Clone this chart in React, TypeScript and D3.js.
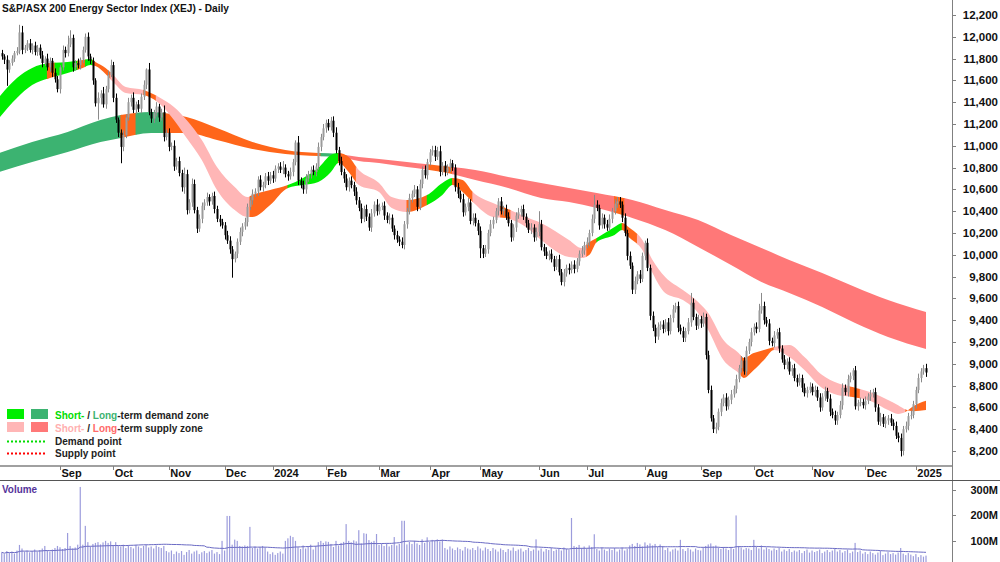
import React from "react";
import * as d3 from "d3";

const W = 1000;
const H = 562;

// daily closes (open = previous close)
const firstOpen = 11850;
const closes = [
  11820, 11790, 11700, 11760, 11800, 11850, 11870, 12040, 11880, 11900,
  11940, 11880, 11920, 11860, 11900, 11830, 11760, 11800, 11720, 11780,
  11670, 11610, 11520, 11720, 11880, 11850, 11930, 11990, 11720, 11760,
  11740, 11790, 11880, 12000, 11820, 11780, 11600, 11390, 11440, 11480,
  11380, 11520, 11650, 11740, 11440, 11240, 11120, 10990, 11100, 11260,
  11400, 11440, 11330, 11380, 11340, 11450, 11560, 11700, 11310, 11250,
  11300, 11360, 11260, 11310, 11080, 11120, 10990, 11000, 10810, 10860,
  10750, 10620, 10740, 10410, 10480, 10650, 10410, 10240, 10330, 10450,
  10480, 10530, 10490, 10540, 10420, 10330, 10300, 10270, 10180, 10130,
  10050, 9960, 10010, 10120, 10210, 10260, 10300, 10440, 10500, 10560,
  10580, 10690, 10620, 10640, 10720, 10680, 10730, 10700, 10790, 10810,
  10780, 10800, 10740, 10720, 10760, 10850, 11030, 10680, 10640, 10600,
  10700, 10740, 10780, 10760, 10810, 10990, 11080, 11160, 11210, 11170,
  11230, 11120, 10960, 10860, 10760, 10700, 10620, 10680, 10640, 10580,
  10500, 10430, 10330, 10420, 10350, 10250, 10380, 10460, 10400, 10440,
  10450, 10360, 10320, 10340, 10240, 10180, 10140, 10120, 10090, 10280,
  10400, 10520, 10560, 10600, 10440, 10650, 10780, 10730, 10850, 10940,
  10960, 10900, 10950, 10760, 10820, 10760, 10800, 10840, 10800, 10620,
  10560, 10510, 10390, 10440, 10480, 10310, 10340, 10290, 10220, 10060,
  10010, 10050, 10200, 10280, 10320, 10400, 10490, 10400, 10420, 10350,
  10290, 10160, 10250, 10360, 10390, 10420, 10350, 10290, 10230, 10250,
  10160, 10210, 10280, 10070, 10030, 9990, 10010, 9960, 9890, 9960,
  9840, 9750, 9830, 9880, 9860, 9910, 9870, 9940, 10010, 10040,
  10090, 10120, 10200, 10330, 10460, 10430, 10270, 10340, 10280, 10250,
  10330, 10400, 10470, 10490, 10460, 10340, 10200, 9990, 9900, 9680,
  9760, 9820, 9780, 9990, 10110, 9880, 9440, 9330, 9250, 9340,
  9360, 9320, 9380, 9300, 9420, 9500, 9530, 9330, 9300, 9240,
  9300, 9380, 9560, 9430, 9350, 9410, 9370, 9430, 9080, 8760,
  8500, 8400, 8420, 8560, 8640, 8690, 8610, 8670, 8720, 8770,
  8860, 8960, 9030, 8930, 9120, 9200, 9290, 9340, 9320, 9490,
  9530, 9400, 9370, 9210, 9190, 9260, 9290, 9140, 9040, 8990,
  9020, 8930, 8960, 8870, 8830, 8870, 8780, 8730, 8760, 8790,
  8740, 8760, 8690, 8600, 8700, 8750, 8680, 8560, 8530, 8480,
  8530, 8620, 8780, 8740, 8860, 8890, 8940, 8610, 8640, 8650,
  8620, 8660, 8700, 8720, 8740, 8600, 8470, 8510, 8450, 8480,
  8500, 8460, 8430, 8340, 8320, 8200, 8400, 8430, 8520, 8530,
  8630, 8760, 8870, 8930, 8960, 8920,
];

// wick lengths above / below the body, in index points
const upWick = [
  30, 20, 40, 25, 30, 20, 35, 70, 60, 25, 30, 40, 20, 35, 25, 30, 40, 20, 45, 30,
  25, 40, 30, 20, 40, 30, 80, 70, 30, 25, 40, 20, 30, 30, 40, 25, 30, 20, 50, 30,
  60, 30, 40, 50, 30, 40, 20, 30, 40, 30, 40, 30, 50, 25, 40, 30, 40, 10, 60, 30,
  30, 40, 25, 30, 60, 30, 40, 30, 50, 30, 40, 30, 60, 40, 30, 50, 40, 30, 40, 30,
  30, 40, 25, 30, 40, 30, 35, 30, 30, 40, 40, 30, 20, 30, 40, 30, 40, 30, 30, 40,
  30, 30, 40, 30, 30, 40, 30, 40, 30, 30, 40, 60, 30, 30, 40, 30, 20, 60, 30, 40,
  40, 30, 30, 40, 30, 40, 30, 40, 30, 35, 35, 40, 50, 30, 40, 30, 40, 30, 40, 30,
  40, 30, 40, 30, 40, 30, 40, 30, 50, 30, 30, 40, 30, 40, 30, 30, 40, 30, 40, 30,
  30, 40, 30, 40, 30, 40, 30, 40, 30, 30, 40, 40, 40, 50, 30, 40, 30, 40, 30, 30,
  40, 30, 50, 30, 40, 30, 40, 40, 30, 40, 30, 40, 30, 40, 30, 30, 30, 40, 30, 40,
  40, 30, 30, 30, 40, 30, 40, 30, 30, 40, 30, 40, 120, 40, 30, 40, 30, 40, 30, 30,
  40, 30, 40, 30, 40, 30, 40, 30, 30, 40, 30, 40, 30, 40, 90, 40, 30, 40, 30, 40,
  40, 30, 40, 40, 40, 30, 40, 30, 40, 30, 40, 30, 40, 30, 20, 40, 30, 40, 30, 40,
  30, 40, 30, 40, 30, 40, 30, 40, 30, 40, 30, 40, 90, 40, 30, 40, 30, 40, 30, 40,
  40, 30, 40, 30, 40, 30, 40, 30, 40, 30, 40, 30, 40, 30, 40, 30, 40, 30, 40, 60,
  120, 40, 30, 40, 30, 40, 30, 40, 30, 40, 30, 40, 30, 40, 30, 40, 30, 40, 30, 40,
  30, 40, 30, 40, 30, 40, 30, 40, 30, 40, 30, 40, 40, 30, 40, 30, 20, 40, 30, 40,
  30, 40, 30, 40, 30, 40, 30, 40, 30, 40, 30, 40, 30, 40, 30, 40, 30, 40, 30, 40,
  30, 30, 40, 30, 30, 40,
];
const downWick = [
  30, 40, 150, 30, 25, 30, 20, 30, 40, 30, 30, 25, 40, 30, 35, 30, 40, 25, 30, 40,
  40, 30, 30, 40, 30, 40, 30, 25, 40, 30, 30, 40, 30, 25, 40, 30, 40, 30, 150, 60,
  30, 40, 30, 20, 40, 30, 40, 150, 40, 30, 30, 40, 30, 40, 30, 40, 30, 40, 30, 40,
  40, 30, 40, 30, 40, 30, 40, 30, 40, 30, 30, 40, 60, 40, 30, 40, 30, 40, 30, 40,
  40, 30, 40, 30, 40, 30, 40, 30, 40, 30, 40, 170, 30, 40, 30, 40, 30, 40, 30, 40,
  30, 40, 30, 40, 30, 40, 30, 40, 30, 40, 30, 40, 30, 40, 30, 40, 30, 40, 30, 40,
  40, 30, 40, 30, 40, 30, 40, 30, 40, 30, 30, 40, 30, 40, 30, 40, 30, 40, 30, 40,
  40, 30, 40, 30, 40, 30, 40, 30, 40, 30, 30, 40, 30, 40, 30, 40, 30, 40, 30, 40,
  40, 30, 40, 30, 40, 30, 40, 30, 40, 30, 30, 40, 30, 40, 30, 40, 30, 40, 30, 40,
  40, 30, 40, 30, 40, 30, 40, 30, 40, 90, 40, 30, 40, 30, 40, 30, 40, 30, 40, 30,
  30, 40, 30, 40, 30, 40, 30, 40, 30, 40, 40, 30, 40, 30, 40, 30, 40, 30, 40, 30,
  30, 30, 40, 30, 40, 30, 40, 30, 40, 30, 40, 30, 40, 30, 40, 30, 40, 30, 40, 30,
  30, 40, 30, 40, 30, 40, 30, 40, 30, 40, 40, 30, 40, 30, 40, 30, 40, 30, 60, 30,
  30, 40, 30, 40, 30, 40, 30, 40, 30, 40, 40, 30, 40, 30, 40, 30, 40, 30, 40, 30,
  30, 35, 40, 30, 40, 30, 40, 30, 40, 30, 40, 30, 40, 30, 40, 30, 40, 30, 40, 30,
  30, 40, 30, 40, 30, 40, 30, 40, 30, 40, 40, 30, 40, 30, 40, 30, 40, 30, 40, 30,
  30, 40, 30, 40, 30, 40, 30, 40, 30, 40, 40, 30, 40, 30, 40, 30, 40, 30, 40, 30,
  30, 40, 30, 40, 30, 40, 30, 40, 30, 40, 40, 30, 40, 30, 40, 50, 40, 30, 40, 30,
  30, 40, 30, 40, 30, 40,
];

// daily volume, millions
const volumes = [
  55, 48, 60, 52, 58, 50, 62, 84, 70, 58, 62, 55, 60, 66, 58, 64, 70, 80, 62, 58,
  66, 72, 80, 75, 68, 72, 131, 80, 70, 74, 85, 312, 85, 159, 95, 78, 88, 92, 95, 86,
  94, 100, 92, 98, 84, 95, 80, 78, 85, 72, 82, 76, 70, 84, 78, 72, 80, 85, 74, 78,
  70, 82, 76, 72, 80, 60, 55, 62, 48, 58, 52, 60, 45, 56, 64, 50, 58, 62, 48, 55,
  60, 52, 58, 64, 50, 56, 48, 100, 62, 198, 198, 85, 105, 100, 80, 78, 82, 80, 155, 72,
  78, 70, 76, 80, 74, 58, 48, 55, 45, 52, 58, 50, 100, 110, 120, 115, 100, 75, 68, 82,
  70, 78, 85, 66, 80, 95, 100, 92, 98, 96, 88, 76, 100, 82, 92, 96, 166, 100, 94, 102,
  98, 142, 90, 130, 128, 103, 96, 100, 127, 84, 88, 80, 90, 78, 84, 115, 82, 88, 179, 179,
  86, 96, 88, 100, 90, 84, 106, 92, 114, 96, 104, 100, 106, 98, 105, 72, 66, 78, 70, 64,
  74, 68, 62, 76, 70, 66, 72, 64, 78, 70, 62, 74, 68, 60, 72, 66, 58, 70, 64, 56,
  68, 62, 74, 60, 66, 70, 58, 64, 72, 60, 66, 106, 62, 70, 58, 68, 64, 72, 60, 66,
  70, 62, 74, 68, 64, 190, 80, 76, 84, 72, 78, 70, 82, 76, 126, 68, 62, 74, 66, 60,
  70, 64, 72, 58, 66, 74, 62, 68, 82, 88, 80, 92, 86, 78, 94, 84, 90, 82, 88, 76,
  86, 80, 64, 72, 58, 66, 70, 62, 104, 68, 60, 72, 66, 58, 70, 64, 62, 74, 80, 86,
  90, 78, 82, 74, 68, 76, 70, 64, 72, 68, 200, 80, 74, 66, 72, 70, 64, 104, 76, 70,
  82, 66, 74, 68, 62, 70, 64, 72, 58, 66, 60, 68, 56, 62, 58, 64, 52, 60, 66, 54,
  62, 56, 60, 66, 52, 58, 64, 56, 62, 70, 58, 64, 54, 60, 66, 52, 58, 92, 56, 62,
  50, 56, 48, 58, 52, 46, 54, 60, 44, 50, 56, 48, 52, 46, 54, 72, 50, 44, 52, 46,
  40, 48, 36, 44, 38, 42,
];

// month labels and the trading-day index where each month starts
const monthLabels = ["Sep", "Oct", "Nov", "Dec", "2024", "Feb", "Mar", "Apr", "May", "Jun", "Jul", "Aug", "Sep", "Oct", "Nov", "Dec", "2025"];
const monthStarts = [23, 44, 66, 88, 107, 128, 149, 169, 189, 212, 231, 254, 276, 297, 320, 341, 361];

const priceTicks = d3.range(8200, 12201, 200);
const volumeTicks = [100, 200, 300];

// long-term band (two slow averages), sampled
const longIdx = [-1, 12, 26, 39, 47, 59, 64, 73, 85, 99, 112, 125, 133, 141, 149, 160, 174, 187, 200, 213, 224, 235, 249, 262, 275, 288, 300, 311, 324, 337, 350, 365];
const longHi = [10934, 11035, 11127, 11237, 11283, 11310, 11301, 11264, 11163, 11035, 10961, 10934, 10925, 10897, 10879, 10851, 10815, 10778, 10714, 10659, 10613, 10567, 10503, 10411, 10319, 10182, 10062, 9952, 9833, 9705, 9585, 9475];
const longLo = [10760, 10852, 10943, 11035, 11072, 11117, 11117, 11117, 11053, 10971, 10925, 10906, 10897, 10861, 10842, 10806, 10760, 10686, 10613, 10521, 10484, 10429, 10338, 10227, 10072, 9906, 9751, 9650, 9521, 9374, 9246, 9136];
const longZones: [number, number, string][] = [
  [-1, 47, "dL"], [47, 53, "mx"], [53, 64, "dL"], [64, 126, "mx"], [126, 132, "dL"],
  [132, 168, "sL"], [168, 178, "mx"], [178, 242, "sL"], [242, 246, "mx"], [246, 365, "sL"],
];

// short-term band (two fast averages), sampled
const shortIdx = [-1, 6, 12, 19, 26, 32, 35, 37, 41, 44, 49, 56, 62, 68, 73, 79, 85, 92, 97, 99, 106, 113, 119, 125, 130, 133, 137, 141, 149, 154, 160, 168, 174, 178, 182, 186, 194, 199, 207, 213, 224, 229, 232, 235, 242, 245, 248, 253, 257, 262, 269, 275, 279, 285, 291, 293, 297, 301, 305, 311, 317, 324, 330, 336, 344, 350, 354, 357, 360, 365];
const shortA = [11448, 11622, 11714, 11760, 11769, 11787, 11796, 11769, 11714, 11650, 11539, 11512, 11448, 11356, 11237, 11053, 10806, 10622, 10530, 10549, 10594, 10640, 10705, 10796, 10916, 10934, 10897, 10778, 10659, 10530, 10503, 10549, 10659, 10705, 10686, 10576, 10475, 10429, 10347, 10292, 10136, 10062, 10117, 10154, 10255, 10292, 10246, 10136, 9952, 9796, 9677, 9567, 9466, 9218, 9099, 9053, 9099, 9127, 9154, 9173, 9063, 8897, 8824, 8787, 8732, 8668, 8620, 8580, 8565, 8576];
const shortB = [11255, 11439, 11558, 11622, 11668, 11714, 11741, 11732, 11659, 11585, 11484, 11466, 11393, 11237, 11072, 10870, 10594, 10411, 10347, 10347, 10457, 10613, 10640, 10668, 10760, 10842, 10760, 10640, 10576, 10429, 10393, 10457, 10549, 10640, 10576, 10484, 10347, 10338, 10255, 10136, 9980, 9971, 9998, 10117, 10182, 10227, 10154, 10044, 9833, 9650, 9585, 9466, 9310, 9035, 8916, 8870, 8943, 9035, 9127, 9063, 8943, 8778, 8714, 8696, 8650, 8576, 8540, 8560, 8610, 8660];
const shortZones: [number, number, string][] = [
  [-1, 18, "dS"], [18, 21, "mx"], [21, 30, "dS"], [30, 33, "mx"], [33, 36, "dS"], [36, 43, "mx"],
  [43, 56, "sS"], [56, 61, "mx"], [61, 98, "sS"], [98, 113, "mx"], [113, 133, "dS"], [133, 140, "mx"],
  [140, 160, "sS"], [160, 168, "mx"], [168, 178, "dS"], [178, 186, "mx"], [186, 197, "sS"], [197, 201, "mx"],
  [201, 231, "sS"], [231, 235, "mx"], [235, 245, "dS"], [245, 251, "mx"], [251, 292, "sS"], [292, 305, "mx"],
  [305, 335, "sS"], [335, 339, "mx"], [339, 357, "sS"], [357, 365, "mx"],
];

const zoneColor: Record<string, string> = {
  dS: "#00ee00",
  dL: "#3cb371",
  sS: "#ffb6b6",
  sL: "#ff7878",
  mx: "#ff661a",
};

const FONT = "Arial, 'Liberation Sans', sans-serif";

export default function App() {
  const n = closes.length;
  const x = d3.scaleLinear().domain([0, n - 1]).range([1.75, 926]);
  const y = d3.scaleLinear().domain([8200, 12200]).range([451, 15]);
  const yv = d3.scaleLinear().domain([0, 300]).range([566.3, 490]);
  const fmt = d3.format(",");

  const candles = closes.map((c, i) => {
    const o = i === 0 ? firstOpen : closes[i - 1];
    const h = Math.max(o, c) + upWick[i];
    const l = Math.min(o, c) - downWick[i];
    return { i, o, h, l, c, up: c >= o };
  });

  const band = (idx: number[], a: number[], b: number[]) =>
    d3.area<number>()
      .x((k) => x(idx[k]))
      .y0((k) => y(a[k]))
      .y1((k) => y(b[k]))
      .curve(d3.curveMonotoneX)(d3.range(idx.length)) || "";

  const longPath = band(longIdx, longHi, longLo);
  const shortPath = band(shortIdx, shortA, shortB);

  const volMA = volumes.map((_, i) => d3.mean(volumes.slice(Math.max(0, i - 49), i + 1)) as number);
  const volLine = d3.line<number>().x((_, i) => x(i)).y((v) => yv(v))(volMA) || "";

  const zoneClip = (prefix: string, zones: [number, number, string][]) =>
    zones.map(([s, e], k) => (
      <clipPath id={`${prefix}${k}`} key={`${prefix}${k}`}>
        <rect x={s < 0 ? 0 : x(s) - 0.4} y={0} width={x(e) - (s < 0 ? 0 : x(s)) + 0.8} height={465} />
      </clipPath>
    ));

  return (
    <svg width={W} height={H} style={{ display: "block", position: "absolute", left: 0, top: 0, background: "#fff" }}>
      <defs>
        {zoneClip("lz", longZones)}
        {zoneClip("sz", shortZones)}
        <clipPath id="plot"><rect x={0} y={0} width={952} height={465} /></clipPath>
        <clipPath id="volplot"><rect x={0} y={481} width={952} height={81} /></clipPath>
      </defs>
      <rect x={0} y={0} width={W} height={H} fill="#fff" />

      <g clipPath="url(#plot)">
        {longZones.map(([, , key], k) => (
          <path key={`l${k}`} d={longPath} fill={zoneColor[key]} clipPath={`url(#lz${k})`} />
        ))}
        {shortZones.map(([, , key], k) => (
          <path key={`s${k}`} d={shortPath} fill={zoneColor[key]} clipPath={`url(#sz${k})`} />
        ))}
        {candles.map((d) => {
          const cx = Math.round(x(d.i));
          const top = y(Math.max(d.o, d.c));
          const bh = Math.max(1, Math.abs(y(d.o) - y(d.c)));
          const col = d.up ? "#9c9c9c" : "#000";
          return (
            <g key={d.i}>
              <line x1={cx + 0.5} x2={cx + 0.5} y1={y(d.h)} y2={y(d.l)} stroke={d.up ? "#8a8a8a" : "#000"} strokeWidth={1} />
              <rect x={cx - 0.5} y={top} width={2} height={bh} fill={col} />
            </g>
          );
        })}
      </g>

      <text x={2} y={12} fontFamily={FONT} fontWeight="bold" fontSize={11.5} fill="#111" textLength={227} lengthAdjust="spacingAndGlyphs">
        S&amp;P/ASX 200 Energy Sector Index (XEJ) - Daily
      </text>

      {/* legend */}
      <g fontFamily={FONT} fontWeight="bold" fontSize={10} fill="#222">
        <rect x={7} y={409} width={17} height={10} fill={zoneColor.dS} />
        <rect x={31} y={409} width={17} height={10} fill={zoneColor.dL} />
        <text x={55} y={418.5}>
          <tspan fill="#00dd00">Short-</tspan>
          <tspan> / </tspan>
          <tspan fill={zoneColor.dL}>Long</tspan>
          <tspan>-term demand zone</tspan>
        </text>
        <rect x={7} y={422} width={17} height={10} fill={zoneColor.sS} />
        <rect x={31} y={422} width={17} height={10} fill={zoneColor.sL} />
        <text x={55} y={431.5}>
          <tspan fill="#ffb0b0">Short-</tspan>
          <tspan> / </tspan>
          <tspan fill="#ff6a6a">Long</tspan>
          <tspan>-term supply zone</tspan>
        </text>
        <line x1={7} x2={45} y1={441.5} y2={441.5} stroke="#00dd00" strokeWidth={2} strokeDasharray="2,2" />
        <text x={55} y={445}>Demand point</text>
        <line x1={7} x2={45} y1={453.5} y2={453.5} stroke="#ff0000" strokeWidth={2} strokeDasharray="2,2" />
        <text x={55} y={457}>Supply point</text>
      </g>

      {/* right price axis */}
      <line x1={952.5} x2={952.5} y1={0} y2={H} stroke="#808080" />
      {priceTicks.map((t) => (
        <g key={t}>
          <line x1={952} x2={956} y1={Math.round(y(t)) + 0.5} y2={Math.round(y(t)) + 0.5} stroke="#808080" />
          <text x={998} y={y(t) + 4} textAnchor="end" fontFamily={FONT} fontWeight="bold" fontSize={11.5} fill="#111">
            {fmt(t)}
          </text>
        </g>
      ))}

      {/* date axis band */}
      <line x1={0} x2={952} y1={466} y2={466} stroke="#a0a0a0" strokeWidth={2} />
      <line x1={0} x2={W} y1={480.5} y2={480.5} stroke="#555" />
      {monthStarts.map((m, k) => (
        <g key={k}>
          <line x1={Math.round(x(m)) + 0.5} x2={Math.round(x(m)) + 0.5} y1={466} y2={470} stroke="#808080" />
          <text x={x(m) + 1.5} y={477} fontFamily={FONT} fontWeight="bold" fontSize={11} fill="#111">
            {monthLabels[k]}
          </text>
        </g>
      ))}

      {/* volume panel */}
      <text x={2} y={493} fontFamily={FONT} fontWeight="bold" fontSize={10.5} fill="#55339a" textLength={35} lengthAdjust="spacingAndGlyphs">
        Volume
      </text>
      <g clipPath="url(#volplot)">
        {volumes.map((v, i) => (
          <rect key={i} x={x(i) - 0.6} y={yv(v)} width={1.2} height={yv(0) - yv(v)} fill="#9c9cdc" />
        ))}
        <path d={volLine} fill="none" stroke="#6a6ac4" strokeWidth={1} />
      </g>
      {volumeTicks.map((t) => (
        <g key={t}>
          <line x1={952} x2={956} y1={Math.round(yv(t)) + 0.5} y2={Math.round(yv(t)) + 0.5} stroke="#808080" />
          <text x={998} y={yv(t) + 4} textAnchor="end" fontFamily={FONT} fontWeight="bold" fontSize={11} fill="#111">
            {`${t}M`}
          </text>
        </g>
      ))}
    </svg>
  );
}
